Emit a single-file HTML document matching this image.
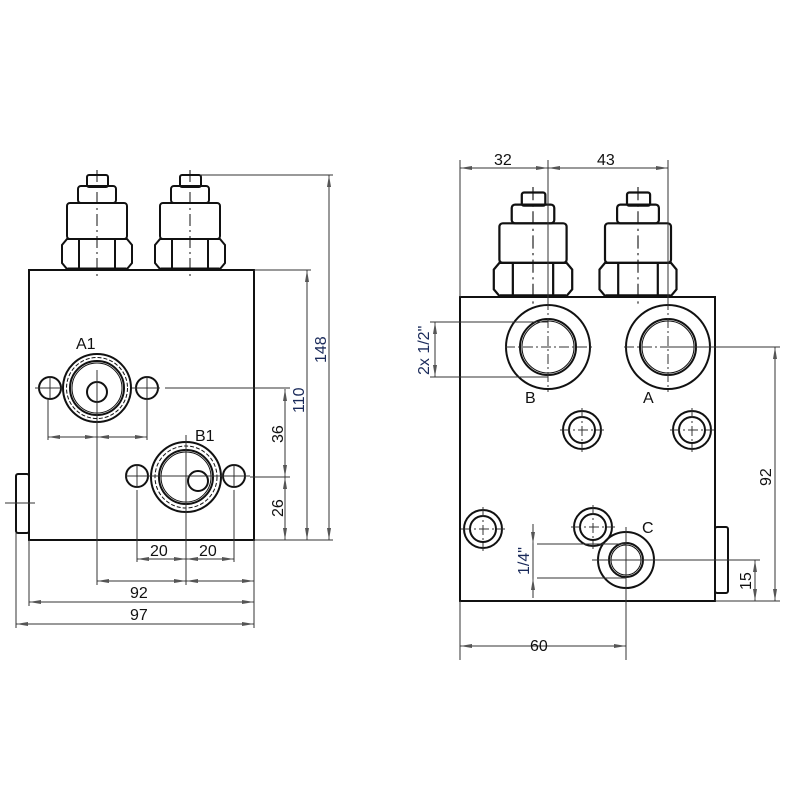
<!DOCTYPE html>
<html><head><meta charset="utf-8"><style>html,body{margin:0;padding:0;background:#fff}svg{display:block}text{font-family:"Liberation Sans",sans-serif;font-size:16px;fill:#111}.b{fill:#1a2a5a}</style></head><body>
<svg width="800" height="800" viewBox="0 0 800 800" xmlns="http://www.w3.org/2000/svg">
<defs>
<marker id="a" viewBox="0 0 12 4" refX="12" refY="2" markerWidth="12" markerHeight="4" markerUnits="userSpaceOnUse" orient="auto-start-reverse"><path d="M0,0L12,2L0,4z" fill="#555"/></marker>
<g id="v" fill="none" stroke="#111" stroke-width="2">
<rect x="-10" y="-95" width="21" height="12" rx="2"/>
<rect x="-19" y="-84" width="38" height="17" rx="3"/>
<rect x="-30" y="-67" width="60" height="36" rx="3"/>
<path d="M-30,-31H30L35,-25V-7L30,-1H-30L-35,-7V-25Z"/>
<line x1="-18" y1="-31" x2="-18" y2="-1"/><line x1="18" y1="-31" x2="18" y2="-1"/>
<rect x="-29" y="-2" width="58" height="2" stroke-width="1"/>
<line x1="0" y1="-100" x2="0" y2="6" stroke-width="1" stroke-dasharray="12,4,2,4"/>
</g>
</defs>
<g stroke="#111" fill="none">
<rect x="29" y="270" width="225" height="270" stroke-width="2"/>
<rect x="16" y="474" width="13" height="59" rx="2" stroke-width="2"/>
<use href="#v" transform="translate(97,270)"/>
<use href="#v" transform="translate(190,270)"/>
<g stroke-width="2"><circle cx="97" cy="388" r="34"/><circle cx="97" cy="388" r="27"/><circle cx="97" cy="388" r="25" stroke-width="1"/><circle cx="97" cy="392" r="10"/>
<circle cx="50" cy="388" r="11"/><circle cx="147" cy="388" r="11"/></g>
<circle cx="97" cy="388" r="30.5" stroke-width="1" stroke-dasharray="4,2"/>
<g stroke-width="2"><circle cx="186" cy="477" r="35"/><circle cx="186" cy="477" r="27"/><circle cx="186" cy="477" r="25" stroke-width="1"/><circle cx="198" cy="481" r="10"/>
<circle cx="137" cy="476" r="11"/><circle cx="234" cy="476" r="11"/></g>
<circle cx="186" cy="477" r="31" stroke-width="1" stroke-dasharray="4,2"/>
<g stroke-width="1" stroke="#333">
<line x1="97" y1="370" x2="97" y2="585"/><line x1="186" y1="435" x2="186" y2="585"/>
<line x1="35" y1="388" x2="62" y2="388"/><line x1="132" y1="388" x2="160" y2="388"/>
<line x1="50" y1="376" x2="50" y2="400"/><line x1="147" y1="376" x2="147" y2="400"/>
<line x1="125" y1="476" x2="250" y2="476"/><line x1="137" y1="464" x2="137" y2="488"/><line x1="234" y1="464" x2="234" y2="488"/>
<line x1="5" y1="503" x2="35" y2="503"/>
<line x1="48" y1="400" x2="48" y2="440"/><line x1="147" y1="400" x2="147" y2="440"/>
<line x1="137" y1="490" x2="137" y2="562"/><line x1="234" y1="490" x2="234" y2="562"/>
<line x1="254" y1="540" x2="254" y2="628"/><line x1="29" y1="540" x2="29" y2="606"/><line x1="16" y1="533" x2="16" y2="628"/>
<line x1="165" y1="388" x2="290" y2="388"/><line x1="250" y1="477" x2="290" y2="477"/>
<line x1="254" y1="540" x2="333" y2="540"/><line x1="254" y1="270" x2="311" y2="270"/><line x1="200" y1="175" x2="333" y2="175"/>
<line x1="48" y1="437" x2="97" y2="437" marker-start="url(#a)" marker-end="url(#a)"/>
<line x1="97" y1="437" x2="147" y2="437" marker-start="url(#a)" marker-end="url(#a)"/>
<line x1="137" y1="559" x2="186" y2="559" marker-start="url(#a)" marker-end="url(#a)"/>
<line x1="186" y1="559" x2="234" y2="559" marker-start="url(#a)" marker-end="url(#a)"/>
<line x1="97" y1="581" x2="186" y2="581" marker-start="url(#a)" marker-end="url(#a)"/>
<line x1="186" y1="581" x2="254" y2="581" marker-start="url(#a)" marker-end="url(#a)"/>
<line x1="29" y1="602" x2="254" y2="602" marker-start="url(#a)" marker-end="url(#a)"/>
<line x1="16" y1="624" x2="254" y2="624" marker-start="url(#a)" marker-end="url(#a)"/>
<line x1="285" y1="389" x2="285" y2="477" marker-start="url(#a)" marker-end="url(#a)"/>
<line x1="285" y1="477" x2="285" y2="540" marker-start="url(#a)" marker-end="url(#a)"/>
<line x1="307" y1="270" x2="307" y2="540" marker-start="url(#a)" marker-end="url(#a)"/>
<line x1="329" y1="175" x2="329" y2="540" marker-start="url(#a)" marker-end="url(#a)"/>
</g>
<rect x="460" y="297" width="255" height="304" stroke-width="2"/>
<rect x="715" y="527" width="13" height="66" rx="2" stroke-width="2"/>
<use href="#v" transform="translate(533,297) scale(1.12,1.1)"/>
<use href="#v" transform="translate(638,297) scale(1.1,1.1)"/>
<g stroke-width="2">
<circle cx="548" cy="347" r="42"/><circle cx="548" cy="347" r="28"/>
<circle cx="668" cy="347" r="42"/><circle cx="668" cy="347" r="28"/>
<circle cx="582" cy="430" r="19"/><circle cx="582" cy="430" r="13"/>
<circle cx="692" cy="430" r="19"/><circle cx="692" cy="430" r="13"/>
<circle cx="483" cy="529" r="19"/><circle cx="483" cy="529" r="13"/>
<circle cx="593" cy="527" r="19"/><circle cx="593" cy="527" r="13"/>
<circle cx="626" cy="560" r="28"/><circle cx="626" cy="560" r="17"/>
</g>
<g stroke-width="1"><circle cx="548" cy="347" r="26"/><circle cx="668" cy="347" r="26"/><circle cx="626" cy="560" r="15"/></g>
<g stroke-width="1" stroke="#333" stroke-dasharray="10,3,2,3">
<line x1="505" y1="347" x2="592" y2="347"/><line x1="548" y1="300" x2="548" y2="392"/>
<line x1="624" y1="347" x2="668" y2="347"/><line x1="668" y1="300" x2="668" y2="392"/>
<line x1="560" y1="430" x2="604" y2="430"/><line x1="582" y1="408" x2="582" y2="452"/>
<line x1="670" y1="430" x2="714" y2="430"/><line x1="692" y1="408" x2="692" y2="452"/>
<line x1="461" y1="529" x2="505" y2="529"/><line x1="483" y1="507" x2="483" y2="551"/>
<line x1="571" y1="527" x2="615" y2="527"/><line x1="593" y1="505" x2="593" y2="549"/>
</g>
<g stroke-width="1" stroke="#333">
<line x1="460" y1="160" x2="460" y2="297"/><line x1="548" y1="160" x2="548" y2="300"/><line x1="668" y1="160" x2="668" y2="300"/>
<line x1="460" y1="168" x2="548" y2="168" marker-start="url(#a)" marker-end="url(#a)"/>
<line x1="548" y1="168" x2="668" y2="168" marker-start="url(#a)" marker-end="url(#a)"/>
<line x1="430" y1="322" x2="548" y2="322"/><line x1="430" y1="377" x2="548" y2="377"/>
<line x1="435" y1="322" x2="435" y2="377" marker-start="url(#a)" marker-end="url(#a)"/>
<line x1="668" y1="347" x2="780" y2="347"/>
<line x1="775" y1="347" x2="775" y2="601" marker-start="url(#a)" marker-end="url(#a)"/>
<line x1="715" y1="601" x2="780" y2="601"/>
<line x1="592" y1="560" x2="760" y2="560"/>
<line x1="755" y1="560" x2="755" y2="601" marker-start="url(#a)" marker-end="url(#a)"/>
<line x1="626" y1="527" x2="626" y2="660"/><line x1="460" y1="601" x2="460" y2="660"/>
<line x1="460" y1="646" x2="626" y2="646" marker-start="url(#a)" marker-end="url(#a)"/>
<line x1="537" y1="544" x2="626" y2="544"/><line x1="537" y1="578" x2="626" y2="578"/>
<line x1="533" y1="524" x2="533" y2="598"/>
<line x1="533" y1="524" x2="533" y2="544" marker-end="url(#a)"/>
<line x1="533" y1="598" x2="533" y2="578" marker-end="url(#a)"/>
</g>
</g>
<text x="76" y="349">A1</text>
<text x="195" y="441">B1</text>
<text x="150" y="556">20</text>
<text x="199" y="556">20</text>
<text x="130" y="598">92</text>
<text x="130" y="620">97</text>
<text transform="translate(283,443) rotate(-90)">36</text>
<text transform="translate(283,517) rotate(-90)">26</text>
<text class="b" transform="translate(304,413) rotate(-90)">110</text>
<text class="b" transform="translate(326,363) rotate(-90)">148</text>
<text x="494" y="165">32</text>
<text x="597" y="165">43</text>
<text x="525" y="403">B</text>
<text x="643" y="403">A</text>
<text x="642" y="533">C</text>
<text x="530" y="651">60</text>
<text class="b" transform="translate(429,375) rotate(-90)">2x 1/2"</text>
<text class="b" transform="translate(529,575) rotate(-90)">1/4"</text>
<text transform="translate(751,590) rotate(-90)">15</text>
<text transform="translate(771,486) rotate(-90)">92</text>
</svg>
</body></html>
